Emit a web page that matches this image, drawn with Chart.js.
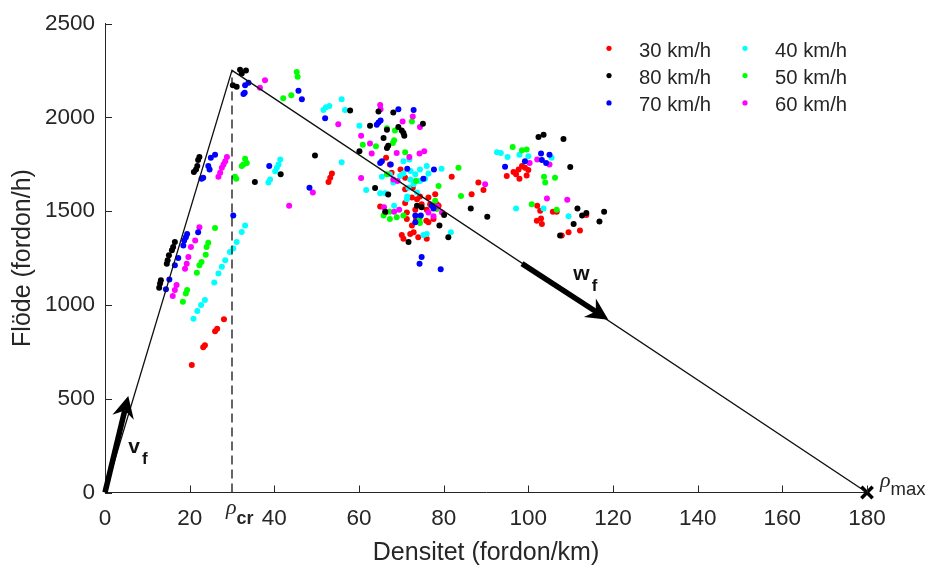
<!DOCTYPE html>
<html>
<head>
<meta charset="utf-8">
<script src="https://cdn.jsdelivr.net/npm/chart.js@4.4.0/dist/chart.umd.min.js"></script>
<style>
  html, body { margin: 0; padding: 0; background: #fff; }
</style>
</head>
<body>
<canvas id="myChart" width="933" height="569"></canvas>
<script>
// density (fordon/km), flow (fordon/h) per speed limit
var pts30 = [[28.1,924],[26.5,873],[26.0,859],[23.6,785],[23.2,774],[20.5,679],
  [53.6,1701],[53.2,1678],[52.8,1655],[66.4,1784],[67.3,1748],[69.8,1722],[67.7,1705],[70.9,1678],[81.9,1683],
  [70.9,1616],[72.7,1625],[74.4,1578],[76.4,1572],[78.0,1590],[70.9,1543],[73.7,1563],[76.8,1537],[78.4,1537],
  [71.3,1458],[73.5,1458],[75.9,1449],[72.5,1423],[72.9,1387],[70.1,1373],[70.5,1352],[72.1,1378],[74.0,1361],
  [76.0,1352],[66.2,1493],[65.0,1525],[73.3,1507],[76.0,1507],[71.3,1493],[78.8,1528],[76.4,1440],[77.6,1458],
  [74.8,1537],[72.5,1572],
  [86.6,1590],[88.2,1652],[89.4,1613],[94.9,1687],[96.5,1708],[97.7,1722],[98.5,1740],[99.2,1731],[100.0,1719],
  [99.6,1690],[97.9,1673],[97.1,1696],[102.1,1529],[102.8,1502],[103.0,1461],[103.2,1431],[102.0,1449],
  [105.8,1497],[106.7,1497],[107.9,1370],[109.5,1387],[112.2,1396],[113.7,1479]];

var pts80 = [[31.9,2253],[33.3,2250],[32.3,2233],[30.2,2171],[31.1,2163],
  [22.3,1789],[22.0,1772],[21.8,1740],[21.5,1722],[21.0,1708],[35.4,1655],[41.5,1696],
  [16.5,1335],[16.1,1308],[15.8,1291],[15.1,1264],[14.8,1238],[14.6,1220],[13.2,1132],[13.0,1114],[12.8,1091],
  [57.9,2036],[64.6,2031],[62.6,1955],[68.1,2025],[69.3,1948],[70.5,1916],[70.7,1902],[70.1,1930],[66.6,1934],
  [65.8,1890],[75.1,1965],[66.9,1849],[66.6,1837],[60.1,1819],[49.6,1796],
  [63.8,1623],[66.9,1588],[73.7,1528],[74.8,1520],[79.0,1423],[80.1,1479],[81.1,1361],[86.4,1514],[90.3,1470],
  [71.7,1335],[66.2,1497],
  [102.4,1895],[103.6,1907],[108.3,1884],[109.9,1735],[111.6,1514],[113.7,1490],[112.7,1476],[110.7,1431],
  [107.5,1370],[116.8,1444],[117.9,1497]];

var pts70 = [[33.1,2171],[33.9,2184],[32.7,2124],[33.0,2131],[45.7,2142],[46.5,2096],
  [25.0,1784],[26.0,1801],[24.4,1740],[24.7,1722],[22.8,1673],[23.2,1678],[38.8,1740],[30.3,1476],
  [19.4,1378],[19.1,1361],[18.7,1343],[18.5,1317],[17.3,1250],[16.5,1211],[15.2,1135],[14.4,1083],[22.0,1387],
  [52.0,1995],[69.3,2043],[72.9,2039],[64.6,1972],[65.1,1983],[64.2,1960],[65.0,1757],[65.4,1766],[67.5,1748],
  [71.4,1726],[77.7,1722],[75.2,1673],[48.3,1625],
  [73.3,1476],[74.6,1476],[73.3,1440],[77.2,1529],[77.6,1514],[74.8,1255],[74.3,1220],[79.3,1190],
  [94.5,1736],[103.0,1807],[105.0,1801],[103.2,1772],[104.2,1757],[99.2,1766]];

var pts40 = [[41.4,1775],[41.0,1748],[40.6,1731],[40.2,1713],[39.0,1669],[38.6,1652],
  [33.1,1423],[32.3,1388],[31.1,1335],[30.3,1300],[29.5,1282],[28.4,1238],[27.6,1203],[26.8,1167],[25.8,1120],
  [23.6,1026],[22.7,1000],[21.8,968],[20.9,926],
  [52.2,2053],[53.0,2060],[51.6,2039],[55.9,2096],[56.7,2039],[60.1,1955],[55.9,1761],[70.5,1766],[71.9,1775],
  [69.7,1687],[70.5,1701],[72.2,1714],[73.3,1696],[74.4,1722],[76.0,1740],[76.4,1701],[75.6,1673],[79.5,1726],
  [65.4,1683],[61.7,1613],[65.0,1595],[66.2,1595],[71.4,1578],[71.3,1563],[68.3,1528],[81.7,1387],[75.2,1373],
  [76.0,1378],[72.1,1669],[73.3,1661],[74.4,1661],[67.3,1696],[68.1,1652],[71.7,1625],[72.9,1643],[73.7,1599],
  [92.6,1814],[93.5,1810],[95.1,1789],[97.9,1801],[100.0,1793],[105.5,1784],[97.1,1514],[103.6,1514],[109.5,1472]];

var pts50 = [[45.3,2242],[45.5,2216],[42.1,2101],[44.0,2117],
  [33.1,1779],[33.5,1757],[32.3,1740],[32.7,1748],[31.0,1673],[30.7,1683],
  [26.0,1410],[24.4,1331],[24.0,1308],[23.8,1267],[22.8,1229],[22.3,1211],[21.7,1172],[19.4,1079],[19.1,1061],[18.4,1017],
  [72.5,1978],[66.6,1942],[68.5,1930],[68.3,1877],[68.0,1863],[64.0,1846],[60.9,1854],[70.9,1814],
  [66.6,1696],[73.5,1661],[78.8,1634],[83.5,1731],[84.1,1581],[67.2,1497],[67.3,1458],[68.9,1467],[70.5,1476],
  [74.3,1458],[74.4,1437],[78.0,1555],[78.4,1511],[65.8,1476],
  [96.3,1842],[98.5,1824],[99.6,1828],[103.7,1683],[104.0,1652],[106.3,1678],[100.8,1537],[106.7,1507]];

var pts60 = [[36.6,2157],[37.8,2198],
  [28.8,1789],[28.4,1766],[28.0,1748],[27.6,1731],[27.2,1705],[26.8,1683],[43.5,1528],
  [22.3,1414],[21.3,1343],[20.3,1308],[19.7,1255],[19.3,1220],[18.9,1193],[16.9,1106],[16.5,1079],[16.0,1048],
  [55.1,1963],[65.0,2066],[65.1,2043],[60.5,1902],[72.7,2004],[70.3,1978],[74.4,1948],[62.6,1860],[63.0,1807],
  [68.9,1810],[74.3,1807],[75.4,1819],[71.9,1789],[49.1,1599],
  [60.5,1676],[68.1,1669],[69.1,1661],[79.6,1493],[89.8,1643],[68.3,1497],[69.5,1507],[77.6,1472],[76.4,1493],
  [65.9,1520],[78.4,1525],
  [100.3,1757],[102.1,1775],[105.0,1748],[104.4,1567],[109.2,1560]];

// triangular fundamental diagram
var triDensity = [0, 30, 180];
var triFlow = [0, 2250, 0];
var arrowVf = [[0, 0], [5.5, 515]];
var arrowWf = [[98.5, 1220], [118.9, 921]];

var xTicks = [0, 20, 40, 60, 80, 100, 120, 140, 160, 180];
var yTicks = [0, 500, 1000, 1500, 2000, 2500];

var font = "'Liberation Sans', Arial, Helvetica, sans-serif";
var axisColor = "#262626";

function toXY(arr) {
    return arr.map(function (p) { return { x: p[0], y: p[1] }; });
}

var series = [
    { label: "80 km/h", data: pts80, color: "#000000" },
    { label: "70 km/h", data: pts70, color: "#0000ff" },
    { label: "60 km/h", data: pts60, color: "#ff00ff" },
    { label: "50 km/h", data: pts50, color: "#00ff00" },
    { label: "40 km/h", data: pts40, color: "#00ffff" },
    { label: "30 km/h", data: pts30, color: "#ff0000" }
];
// legend in two columns like the original
var legendOrder = [["30 km/h", "80 km/h", "70 km/h"], ["40 km/h", "50 km/h", "60 km/h"]];

var datasets = [];
datasets.push({
    label: "model",
    data: triDensity.map(function (x, i) { return { x: x, y: triFlow[i] }; }),
    showLine: true,
    borderColor: "#111",
    borderWidth: 1.3,
    pointRadius: 0,
    fill: false
});
datasets.push({
    label: "rhocr",
    data: [{ x: triDensity[1], y: 0 }, { x: triDensity[1], y: triFlow[1] }],
    showLine: true,
    borderColor: "#111",
    borderWidth: 1.3,
    borderDash: [9, 5],
    pointRadius: 0,
    fill: false
});
series.forEach(function (s) {
    datasets.push({
        label: s.label,
        data: toXY(s.data),
        backgroundColor: s.color,
        borderWidth: 0,
        pointRadius: 3,
        pointHoverRadius: 3
    });
});
datasets.push({
    label: "rhomax",
    data: [{ x: triDensity[2], y: triFlow[2] }],
    pointStyle: "crossRot",
    pointRadius: 8,
    borderWidth: 3.5,
    borderColor: "#000",
    clip: false
});

function drawArrow(c, x0, y0, x1, y1) {
    var ang = Math.atan2(y1 - y0, x1 - x0);
    var cs = Math.cos(ang), sn = Math.sin(ang);
    var headLen = 22, headHalf = 11, notch = 7;
    var bx = x1 - headLen * cs, by = y1 - headLen * sn;
    var nx = x1 - (headLen - notch) * cs, ny = y1 - (headLen - notch) * sn;
    c.save();
    c.strokeStyle = "#000";
    c.fillStyle = "#000";
    c.lineWidth = 5.5;
    c.beginPath();
    c.moveTo(x0, y0);
    c.lineTo(nx, ny);
    c.stroke();
    c.beginPath();
    c.moveTo(x1, y1);
    c.lineTo(bx - sn * headHalf, by + cs * headHalf);
    c.lineTo(nx, ny);
    c.lineTo(bx + sn * headHalf, by - cs * headHalf);
    c.closePath();
    c.fill();
    c.restore();
}

function subLabel(c, x, y, main, mainFont, sub, subFont, dx, dy) {
    c.font = mainFont;
    c.fillText(main, x, y);
    var w = c.measureText(main).width;
    c.font = subFont;
    c.fillText(sub, x + w + dx, y + dy);
}

var extras = {
    id: "extras",
    afterDraw: function (chart) {
        var c = chart.ctx;
        var xs = chart.scales.x, ys = chart.scales.y;
        var area = chart.chartArea;
        c.save();
        // inward ticks
        c.strokeStyle = axisColor;
        c.lineWidth = 1;
        c.beginPath();
        xTicks.forEach(function (v) {
            var px = Math.round(xs.getPixelForValue(v)) + 0.5;
            c.moveTo(px, area.bottom);
            c.lineTo(px, area.bottom - 7);
        });
        yTicks.forEach(function (v) {
            var py = Math.round(ys.getPixelForValue(v)) + 0.5;
            c.moveTo(area.left, py);
            c.lineTo(area.left + 7, py);
        });
        c.stroke();

        // arrows
        [arrowVf, arrowWf].forEach(function (a) {
            drawArrow(c, xs.getPixelForValue(a[0][0]), ys.getPixelForValue(a[0][1]),
                xs.getPixelForValue(a[1][0]), ys.getPixelForValue(a[1][1]));
        });

        // labels
        c.fillStyle = "#111";
        c.textBaseline = "alphabetic";
        c.textAlign = "left";
        var vx = xs.getPixelForValue(arrowVf[1][0]), vy = ys.getPixelForValue(arrowVf[1][1]);
        subLabel(c, vx, vy + 57, "v", "bold 21px " + font, "f", "bold 17px " + font, 2, 11);
        var wx = xs.getPixelForValue(arrowWf[1][0]), wy = ys.getPixelForValue(arrowWf[1][1]);
        subLabel(c, wx - 35, wy - 40, "w", "bold 21px " + font, "f", "bold 17px " + font, 2, 11.5);
        var cx = xs.getPixelForValue(triDensity[1]), cy = ys.getPixelForValue(0);
        c.fillStyle = axisColor;
        subLabel(c, cx - 6, cy + 21, "\u03c1", "italic 22px 'Liberation Serif', serif", "cr", "bold 18px " + font, 0, 10);
        var mx = xs.getPixelForValue(triDensity[2]), my = ys.getPixelForValue(0);
        subLabel(c, mx + 13, my - 6, "\u03c1", "italic 22px 'Liberation Serif', serif", "max", "18.5px " + font, 0, 8);

        // legend
        var colX = [609, 745];
        var rowY = [56.7, 84, 111.3];
        c.font = "20.25px " + font;
        legendOrder.forEach(function (col, ci) {
            col.forEach(function (name, ri) {
                var s = series.filter(function (d) { return d.label === name; })[0];
                c.fillStyle = s.color;
                c.beginPath();
                c.arc(colX[ci], rowY[ri] - 8.4, 2.6, 0, Math.PI * 2);
                c.fill();
                c.fillStyle = axisColor;
                c.fillText(s.label, colX[ci] + 30, rowY[ri]);
            });
        });
        c.restore();
    }
};

function plainTick(v) { return String(v); }

var ctx = document.getElementById("myChart").getContext("2d");
var chart = new Chart(ctx, {
    type: "scatter",
    data: { datasets: datasets },
    options: {
        responsive: false,
        animation: false,
        events: [],
        layout: { padding: { top: 19.5, right: 66, left: 0, bottom: 0 } },
        plugins: {
            legend: { display: false },
            tooltip: { enabled: false }
        },
        scales: {
            x: {
                type: "linear",
                min: 0,
                max: 180,
                afterBuildTicks: function (s) { s.ticks = xTicks.map(function (v) { return { value: v }; }); },
                afterFit: function (s) { s.height = 76.5; },
                grid: { display: false, drawTicks: false },
                border: { display: true, color: axisColor, width: 1 },
                ticks: { color: axisColor, padding: 12.5, maxRotation: 0, autoSkip: false, callback: plainTick, font: { family: font, size: 22.5 } },
                title: { display: true, text: "Densitet (fordon/km)", color: axisColor, font: { family: font, size: 25 }, padding: { top: 0, bottom: 1 } }
            },
            y: {
                type: "linear",
                min: 0,
                max: 2500,
                afterBuildTicks: function (s) { s.ticks = yTicks.map(function (v) { return { value: v }; }); },
                afterFit: function (s) { s.width = 105; },
                grid: { display: false, drawTicks: false },
                border: { display: true, color: axisColor, width: 1 },
                ticks: { color: axisColor, padding: 10, autoSkip: false, callback: plainTick, font: { family: font, size: 22.5 } },
                title: { display: true, text: "Flöde (fordon/h)", color: axisColor, font: { family: font, size: 25 }, padding: { top: 8, bottom: 0 } }
            }
        }
    },
    plugins: [extras]
});
</script>
</body>
</html>
